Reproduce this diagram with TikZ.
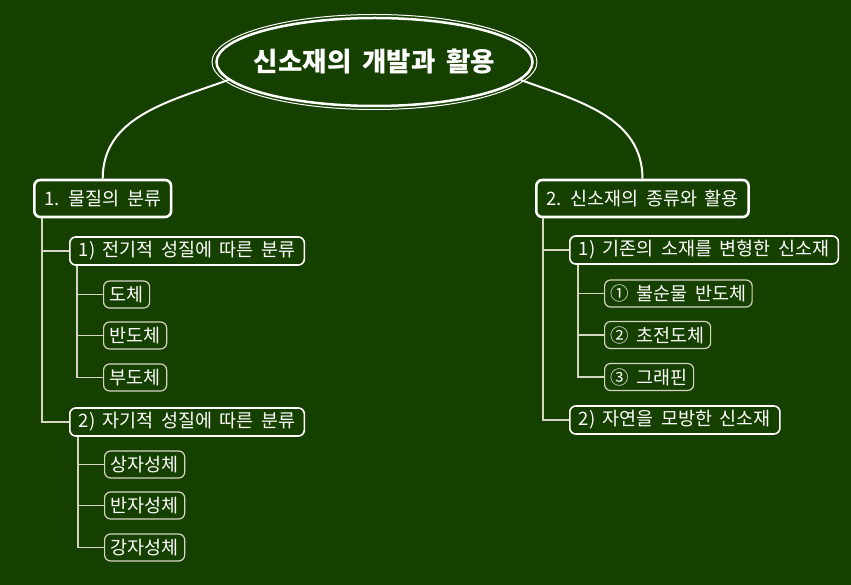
\documentclass[tikz,border=0pt]{standalone}
\usepackage{fontspec}
\setmainfont{Noto Sans CJK KR}[WordSpace=1.8]
\usetikzlibrary{shapes.geometric}
\definecolor{board}{RGB}{22,64,0}
\definecolor{twigcol}{RGB}{214,214,196}
\begin{document}
\begin{tikzpicture}[x=1pt,y=-1pt,
    every node/.style={text=white},
    root/.style={ellipse,draw=white,line width=2.5pt,minimum width=316pt,minimum height=88pt,
        inner xsep=-14pt,inner ysep=0pt,font=\fontsize{26.5}{28}\selectfont\bfseries},
    topic/.style={draw=white,line width=2.6pt,rounded corners=6pt,minimum height=37pt,
        inner xsep=10pt,anchor=west,font=\fontsize{18.5}{20}\selectfont},
    sub/.style={draw=white,line width=1.6pt,rounded corners=6pt,minimum height=28pt,
        inner xsep=9pt,anchor=west,font=\fontsize{18.5}{20}\selectfont},
    leaf/.style={draw=twigcol,line width=1.2pt,rounded corners=6pt,minimum height=27pt,
        inner xsep=6pt,anchor=west,font=\fontsize{18.5}{20}\selectfont},
    link/.style={draw=white,line width=2pt},
    twig/.style={draw=twigcol,line width=1.3pt}]
  \fill[board] (0,0) rectangle (851,585);
  \useasboundingbox (0,0) rectangle (851,585);

  % title
  \node[root] (root) at (374.5,62) {신소재의 개발과 활용};
  \draw[white,line width=1pt] (root.center) ellipse [x radius=162.5pt,y radius=47.5pt];

  % left branch
  \node[topic] (t1) at (33,198.5) {1. 물질의 분류};
  \node[sub] (s11) at (69,251) {1) 전기적 성질에 따른 분류};
  \node[leaf] (l111) at (103,294.5) {도체};
  \node[leaf] (l112) at (103,335.5) {반도체};
  \node[leaf] (l113) at (103,377.5) {부도체};
  \node[sub] (s12) at (69,422) {2) 자기적 성질에 따른 분류};
  \node[leaf] (l121) at (104,464.5) {상자성체};
  \node[leaf] (l122) at (104,505.5) {반자성체};
  \node[leaf] (l123) at (104,547.5) {강자성체};

  % right branch
  \node[topic] (t2) at (535,198.5) {2. 신소재의 종류와 활용};
  \node[sub] (s21) at (569,250) {1) 기존의 소재를 변형한 신소재};
  \node[leaf] (l211) at (604,293.5) {① 불순물 반도체};
  \node[leaf] (l212) at (604,335) {② 초전도체};
  \node[leaf] (l213) at (604,377) {③ 그래핀};
  \node[sub] (s22) at (569,420) {2) 자연을 모방한 신소재};

  \draw[link] (root.187) to[out=200,in=90] (t1.north);
  \draw[link] (root.-7) to[out=-20,in=90] (t2.north);

  \draw[twig] ([xshift=9pt]t1.south west) |- (s11.west);
  \draw[twig] ([xshift=9pt]t1.south west) |- (s12.west);
  \draw[twig] ([xshift=8pt]s11.south west) |- (l111.west);
  \draw[twig] ([xshift=8pt]s11.south west) |- (l112.west);
  \draw[twig] ([xshift=8pt]s11.south west) |- (l113.west);
  \draw[twig] ([xshift=9pt]s12.south west) |- (l121.west);
  \draw[twig] ([xshift=9pt]s12.south west) |- (l122.west);
  \draw[twig] ([xshift=9pt]s12.south west) |- (l123.west);

  \draw[twig] ([xshift=8pt]t2.south west) |- (s21.west);
  \draw[twig] ([xshift=8pt]t2.south west) |- (s22.west);
  \draw[twig] ([xshift=9pt]s21.south west) |- (l211.west);
  \draw[twig] ([xshift=9pt]s21.south west) |- (l212.west);
  \draw[twig] ([xshift=9pt]s21.south west) |- (l213.west);
\end{tikzpicture}
\end{document}
